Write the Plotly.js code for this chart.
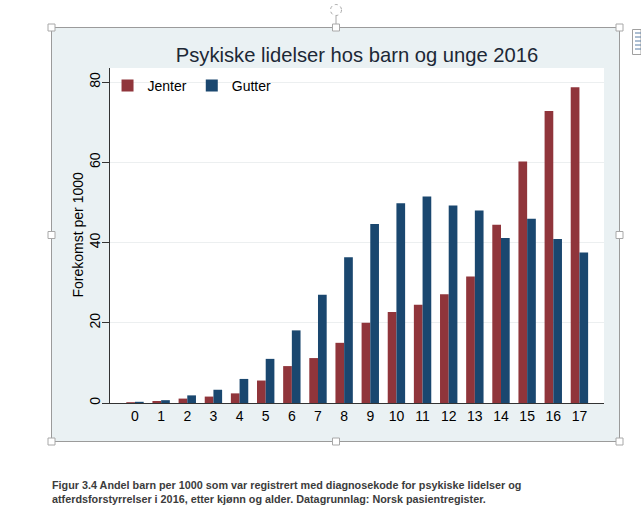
<!DOCTYPE html>
<html>
<head>
<meta charset="utf-8">
<script src="https://cdn.plot.ly/plotly-3.0.1.min.js"></script>
<style>html,body{margin:0;padding:0;background:#fff;}#chart{width:641px;height:516px;}</style>
</head>
<body>
<div id="chart"></div>
<script>
// ---- data ----
var ages = [0,1,2,3,4,5,6,7,8,9,10,11,12,13,14,15,16,17];
var tickLabels = ["0","1","2","3","4","5","6","7","8","9","10","11","12","13","14","15","16","17"];
var jenter = [0.2,0.5,1.1,1.6,2.4,5.6,9.2,11.2,15.0,20.0,22.7,24.5,27.1,31.5,44.4,60.2,72.8,78.7];
var gutter = [0.3,0.7,1.9,3.3,6.0,11.0,18.1,27.0,36.3,44.6,49.8,51.5,49.2,48.0,41.1,45.9,40.9,37.5];
var seriesNames = ["Jenter","Gutter"];
var yTicks = [0,20,40,60,80];

// ---- layout helpers (pixel -> paper) ----
var W = 641, H = 516;
var L = 110, R = 604, T = 68, B = 403;
function px(x){ return (x - L) / (R - L); }
function py(y){ return (B - y) / (B - T); }

var FONT = "Liberation Sans, Arial, sans-serif";
var frameCol = "#9b9b9b";

var shapes = [
  {type:"rect", xref:"paper", yref:"paper", layer:"below",
   x0:px(51.5), x1:px(619.5), y0:py(441.5), y1:py(27.5),
   fillcolor:"#eaf1f3", line:{color:frameCol, width:1}},
  {type:"rect", xref:"paper", yref:"paper", layer:"below",
   x0:0, x1:1, y0:0, y1:1, fillcolor:"#ffffff", line:{width:0}},
  {type:"line", xref:"paper", yref:"paper", layer:"above",
   x0:px(336), x1:px(336), y0:py(16), y1:py(24), line:{color:"#a8a8a8", width:1}},
  {type:"circle", xref:"paper", yref:"paper", layer:"above",
   x0:px(330.5), x1:px(341.5), y0:py(15.5), y1:py(4.5), line:{color:"#a8a8a8", width:1, dash:"dot"}},
  {type:"rect", xref:"paper", yref:"paper", layer:"above",
   x0:px(632.5), x1:px(641), y0:py(54.5), y1:py(29.5), fillcolor:"#ffffff", line:{color:"#a0a0a0", width:1}}
];
[33,37,41,45,49].forEach(function(y){
  shapes.push({type:"line", xref:"paper", yref:"paper", layer:"above",
    x0:px(635), x1:px(641), y0:py(y), y1:py(y), line:{color:"#5b7fa6", width:1}});
});
[[51.5,27.5],[336,27.5],[619.5,27.5],[51.5,235],[619.5,235],[51.5,441.5],[336,441.5],[619.5,441.5]].forEach(function(p){
  shapes.push({type:"rect", xref:"paper", yref:"paper", layer:"above",
    x0:px(p[0]-3.5), x1:px(p[0]+3.5), y0:py(p[1]+3.5), y1:py(p[1]-3.5),
    fillcolor:"#ffffff", line:{color:"#a8a8a8", width:1}});
});

var traces = [
  {type:"bar", name:seriesNames[0], x:ages, y:jenter, marker:{color:"#90353b", line:{width:0}}, hoverinfo:"x+y"},
  {type:"bar", name:seriesNames[1], x:ages, y:gutter, marker:{color:"#1a476f", line:{width:0}}, hoverinfo:"x+y"}
];

var layout = {
  width:W, height:H,
  margin:{l:L, r:W-R, t:T, b:H-B, pad:0},
  paper_bgcolor:"#ffffff",
  plot_bgcolor:"#ffffff",
  font:{family:FONT, size:14, color:"#000000"},
  barmode:"group",
  bargap:0.335,
  bargroupgap:0,
  showlegend:true,
  legend:{orientation:"h", x:-0.005, xanchor:"left", y:py(86), yanchor:"middle",
          bgcolor:"rgba(0,0,0,0)", font:{family:FONT, size:14, color:"#000"},
          traceorder:"normal"},
  title:{text:"Psykiske lidelser hos barn og unge 2016", x:px(357), xref:"paper", xanchor:"center",
         y:(H-55)/H, yref:"container", yanchor:"middle",
         font:{family:FONT, size:20.2, color:"#1c2836"}},
  xaxis:{range:[-0.956, 17.94], tickmode:"array", tickvals:ages, ticktext:tickLabels,
         showgrid:false, zeroline:false, showline:true, linecolor:"#333", linewidth:1,
         ticks:"", tickfont:{size:14, color:"#000"}, fixedrange:true},
  yaxis:{range:[0, 83.5], tickmode:"array", tickvals:yTicks, ticktext:yTicks.map(String),
         tickangle:-90, showgrid:true, gridcolor:"#eceff0", gridwidth:1,
         zeroline:false, showline:true, linecolor:"#333", linewidth:1,
         ticks:"outside", ticklen:7, tickcolor:"#333", tickfont:{size:14, color:"#000"},
         ticklabelstandoff:-4,
         fixedrange:true},
  shapes:shapes,
  annotations:[
    {xref:"paper", yref:"paper", x:px(77), y:0.5, xanchor:"center", yanchor:"middle",
     textangle:-90, showarrow:false, text:"Forekomst per 1000",
     font:{family:FONT, size:14, color:"#000"}},
    {xref:"paper", yref:"paper", x:px(49.5), y:py(477), xanchor:"left", yanchor:"top", align:"left",
     showarrow:false,
     text:"<b>Figur 3.4 Andel barn per 1000 som var registrert med diagnosekode for psykiske lidelser og<br>atferdsforstyrrelser i 2016, etter kjønn og alder. Datagrunnlag: Norsk pasientregister.</b>",
     font:{family:FONT, size:10.8, color:"#3c3c3c"}}
  ]
};

Plotly.newPlot("chart", traces, layout, {displayModeBar:false, staticPlot:true});
</script>
</body>
</html>
